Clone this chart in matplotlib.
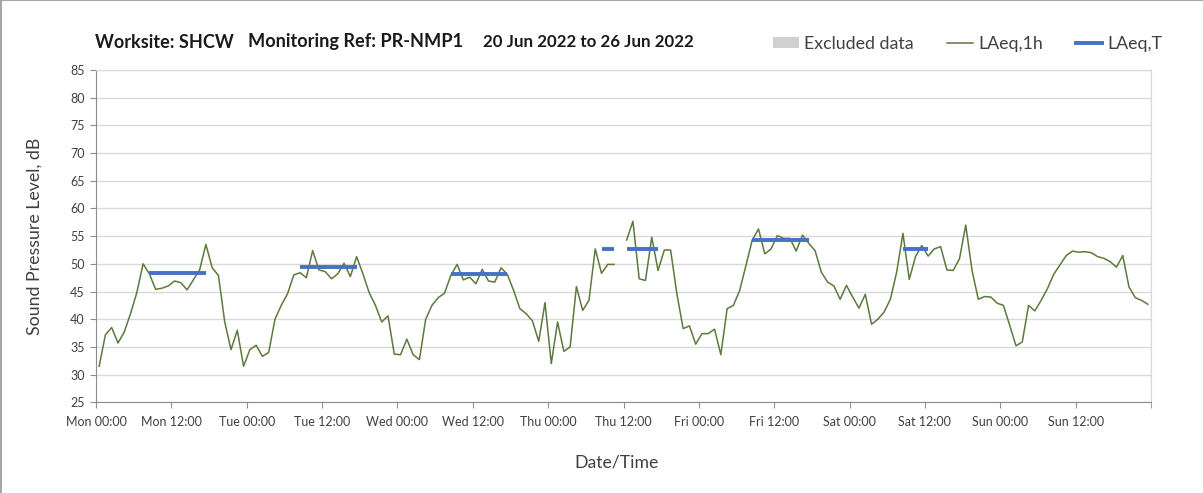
import numpy as np
import matplotlib
matplotlib.use('Agg')
import matplotlib.pyplot as plt
from matplotlib.lines import Line2D
from matplotlib.patches import Patch

plt.rcParams['font.family'] = ['Lato', 'DejaVu Sans']

# Hourly LAeq,1h per day (00:00 .. 23:00), dB
mon = [31.5, 37.2, 38.5, 35.7, 37.7, 41.0, 44.8, 50.0, 48.2, 45.4, 45.6, 46.0,
       46.9, 46.6, 45.3, 47.1, 48.9, 53.5, 49.3, 47.9, 39.5, 34.5, 38.0, 31.5]
tue = [34.5, 35.3, 33.3, 34.0, 40.0, 42.5, 44.6, 48.0, 48.4, 47.5, 52.4, 48.9,
       48.6, 47.3, 48.2, 50.1, 47.7, 51.3, 48.2, 44.8, 42.5, 39.5, 40.6, 33.7]
wed = [33.6, 36.4, 33.6, 32.7, 40.0, 42.5, 43.9, 44.7, 47.9, 49.9, 47.1, 47.6,
       46.4, 49.0, 46.9, 46.7, 49.3, 48.1, 45.2, 41.9, 41.0, 39.7, 36.0, 43.0]
thu = [32.0, 39.5, 34.2, 35.0, 45.9, 41.6, 43.4, 52.7, 48.3, 49.9, 49.9, np.nan,
       54.3, 57.7, 47.3, 47.0, 54.8, 48.8, 52.5, 52.5, 44.6, 38.3, 38.8, 35.5]
fri = [37.4, 37.4, 38.2, 33.6, 41.9, 42.5, 45.2, 49.7, 54.3, 56.3, 51.8, 52.7,
       55.1, 54.6, 54.6, 52.3, 55.2, 53.7, 52.4, 48.5, 46.7, 46.0, 43.6, 46.1]
sat = [44.0, 42.0, 44.5, 39.1, 40.0, 41.3, 43.6, 48.5, 55.5, 47.2, 51.3, 53.3,
       51.4, 52.7, 53.1, 48.9, 48.8, 50.9, 57.0, 48.8, 43.6, 44.1, 44.0, 42.9]
sun = [42.5, 38.9, 35.2, 35.9, 42.5, 41.5, 43.4, 45.5, 48.1, 49.8, 51.5, 52.3,
       52.1, 52.2, 52.0, 51.3, 51.0, 50.4, 49.4, 51.5, 45.8, 43.9, 43.4, 42.7]

# LAeq,T over the working period of each day (first hour, last hour, level)
period_start = [8, 32, 56, 80, 104, 128]
period_end = [17, 41, 65, 89, 113, 132]
period_level = [48.4, 49.5, 48.1, 52.6, 54.3, 52.6]

tick_labels = ['Mon 00:00', 'Mon 12:00', 'Tue 00:00', 'Tue 12:00', 'Wed 00:00',
               'Wed 12:00', 'Thu 00:00', 'Thu 12:00', 'Fri 00:00', 'Fri 12:00',
               'Sat 00:00', 'Sat 12:00', 'Sun 00:00', 'Sun 12:00']

laeq_1h = np.array(mon + tue + wed + thu + fri + sat + sun, dtype=float)
hours = np.arange(len(laeq_1h)) + 0.5

laeq_t = np.full(len(laeq_1h), np.nan)
for s, e, v in zip(period_start, period_end, period_level):
    laeq_t[s:e + 1] = v
laeq_t[np.isnan(laeq_1h)] = np.nan

W, H = 1203, 493
fig = plt.figure(figsize=(W / 100, H / 100), dpi=100)
ax = fig.add_axes([96 / W, 1 - 402.3 / H, 1055 / W, 332.3 / H])

ax.plot(hours, laeq_1h, color='#5b7a3c', linewidth=1.1)
ax.plot(hours, laeq_t, color='#4472c4', linewidth=2.8, solid_capstyle='butt')

ax.set_xlim(0, 168)
ax.set_ylim(25, 85)
ax.set_yticks(np.arange(25, 86, 5))
ax.set_xticks(np.arange(0, 168, 12))
ax.set_xticklabels(tick_labels)
ax.set_xticks(np.arange(0, 169, 24), minor=True)

ax.grid(axis='y', color='#d9d9d9', linewidth=1.0)
ax.grid(axis='x', which='minor', color='#d9d9d9', linewidth=1.0)
ax.set_axisbelow(True)

for side in ['top', 'right']:
    ax.spines[side].set_color('#d9d9d9')
for side in ['left', 'bottom']:
    ax.spines[side].set_color('#8c8c8c')

ax.tick_params(axis='both', which='major', labelsize=9, color='#8c8c8c',
               length=4, labelcolor='#404040')
ax.tick_params(axis='x', which='minor', length=4, color='#8c8c8c')
ax.tick_params(axis='x', pad=6)
ax.tick_params(axis='y', pad=4)

ax.set_ylabel('Sound Pressure Level, dB', fontsize=12.8, color='#404040')
ax.yaxis.set_label_coords((35 - 96) / 1055, 0.5)
ax.yaxis.label.set_va('center')
ax.set_xlabel('Date/Time', fontsize=12.7, color='#404040')
ax.xaxis.set_label_coords((616 - 96) / 1055, (402.3 - 462) / 332.3)
ax.xaxis.label.set_va('center')

# header, each part sized to its span
fig.canvas.draw()
renderer = fig.canvas.get_renderer()
header = [('Worksite: SHCW', 95, 233),
          ('Monitoring Ref: PR-NMP1', 248, 462),
          ('20 Jun 2022 to 26 Jun 2022', 483, 693)]
for txt, x0, x1 in header:
    t = fig.text(x0 / W, 1 - 42 / H, txt, fontsize=12, fontweight='bold',
                 va='center', ha='left', color='#1a1a1a')
    w = t.get_window_extent(renderer).width
    t.set_fontsize(12 * (x1 - x0) / w)

handles = [Patch(facecolor='#d0d0d0', edgecolor='none'),
           Line2D([], [], color='#5b7a3c', linewidth=1.1),
           Line2D([], [], color='#4472c4', linewidth=2.8)]
fig.legend(handles, ['Excluded data', 'LAeq,1h', 'LAeq,T'], ncol=3, frameon=False,
           loc='center left', bbox_to_anchor=(773 / W, 1 - 44 / H),
           borderpad=0, borderaxespad=0, fontsize=12.8, handlelength=1.45,
           handleheight=0.55, handletextpad=0.28, columnspacing=1.9,
           labelcolor='#404040')

# chart frame
fig.add_artist(Line2D([0, 1], [0.999, 0.999], transform=fig.transFigure,
                      color='#a6a6a6', linewidth=1.5))
fig.add_artist(Line2D([0.001, 0.001], [0, 1], transform=fig.transFigure,
                      color='#a6a6a6', linewidth=1.5))

fig.savefig('out.png', dpi=100)
